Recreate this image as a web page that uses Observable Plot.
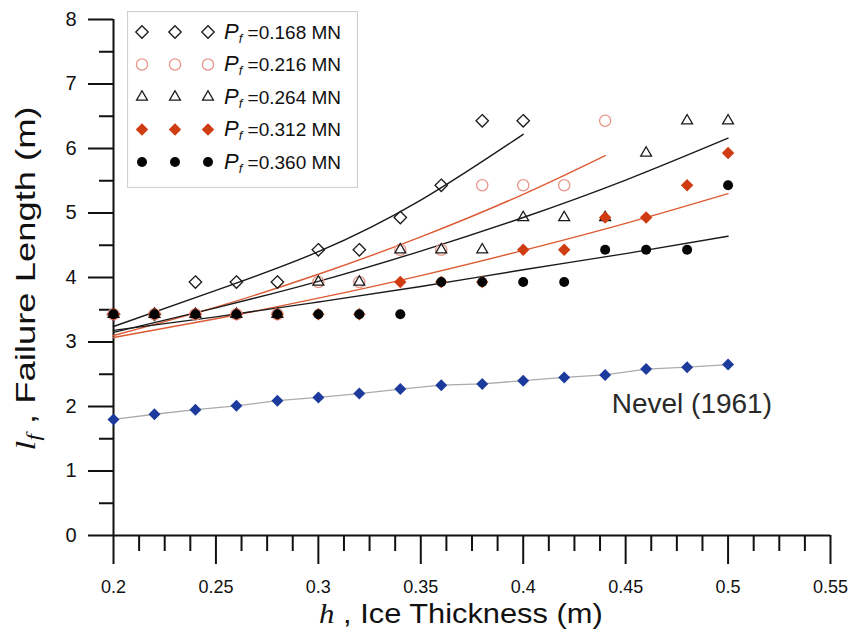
<!DOCTYPE html>
<html>
<head>
<meta charset="utf-8">
<script src="https://cdn.jsdelivr.net/npm/d3@7"></script>
<script src="https://cdn.jsdelivr.net/npm/@observablehq/plot@0.6"></script>
<style>
  html, body { margin: 0; padding: 0; background: #fff; }
  #wrap { position: relative; width: 852px; height: 641px; overflow: hidden; font-family: "Liberation Sans", Arial, sans-serif; }
  .ttl { position: absolute; white-space: nowrap; font-size: 28px; line-height: 1; color: #111; }
  .ital { font-family: "Liberation Serif", "DejaVu Serif", serif; font-style: italic; }
</style>
</head>
<body>
<div id="wrap"></div>
<script>
// ---- data ----
const thickness = [0.20, 0.22, 0.24, 0.26, 0.28, 0.30, 0.32, 0.34, 0.36, 0.38, 0.40, 0.42, 0.44, 0.46, 0.48, 0.50];

const lf_0168 = [3.43, 3.43, 3.93, 3.93, 3.93, 4.43, 4.43, 4.93, 5.43, 6.43, 6.43];
const lf_0216 = [3.43, 3.43, 3.43, 3.43, 3.43, 3.93, 3.93, 4.43, 4.43, 5.43, 5.43, 5.43, 6.43];
const lf_0264 = [3.43, 3.43, 3.43, 3.43, 3.43, 3.93, 3.93, 4.43, 4.43, 4.43, 4.93, 4.93, 4.93, 5.93, 6.43, 6.43];
const lf_0312 = [3.43, 3.43, 3.43, 3.43, 3.43, 3.43, 3.43, 3.93, 3.93, 3.93, 4.43, 4.43, 4.93, 4.93, 5.43, 5.93];
const lf_0360 = [3.43, 3.43, 3.43, 3.43, 3.43, 3.43, 3.43, 3.43, 3.93, 3.93, 3.93, 3.93, 4.43, 4.43, 4.43, 5.43];
const lf_nevel = [1.80, 1.88, 1.95, 2.01, 2.09, 2.14, 2.20, 2.27, 2.33, 2.35, 2.40, 2.45, 2.49, 2.58, 2.61, 2.65];

// fitted trend curves
const fitH_0168 = [0.20, 0.25, 0.30, 0.35, 0.40];
const fit_0168  = [3.24, 3.80, 4.40, 5.20, 6.22];
const fitH_0216 = [0.20, 0.25, 0.30, 0.35, 0.40, 0.44];
const fit_0216  = [3.10, 3.54, 4.05, 4.63, 5.29, 5.89];
const fitH_full = [0.20, 0.25, 0.30, 0.35, 0.40, 0.45, 0.50];
const fit_0264  = [3.15, 3.53, 3.94, 4.41, 4.93, 5.51, 6.16];
const fit_0312  = [3.07, 3.36, 3.68, 4.03, 4.42, 4.84, 5.30];
const fit_0360  = [3.18, 3.39, 3.62, 3.86, 4.12, 4.37, 4.64];

const seriesLabels = ["0.168", "0.216", "0.264", "0.312", "0.360"];

const xMajorTicks = [0.2, 0.25, 0.3, 0.35, 0.4, 0.45, 0.5, 0.55];
const xMinorTicks = [0.2125, 0.225, 0.2375, 0.2625, 0.275, 0.2875, 0.3125, 0.325, 0.3375,
                     0.3625, 0.375, 0.3875, 0.4125, 0.425, 0.4375, 0.4625, 0.475, 0.4875,
                     0.5125, 0.525, 0.5375];
const yMajorTicks = [0, 1, 2, 3, 4, 5, 6, 7, 8];
const yMinorTicks = [0.5, 1.5, 2.5, 3.5, 4.5, 5.5, 6.5, 7.5];

const nevelNote = [{h: 0.4432, lf: 2.04, label: "Nevel (1961)"}];

// ---- styles ----
const styleFor = [
  {symbol: "diamond2",  r: 5.6, stroke: "#1a1a1a", fill: "none", line: "#1a1a1a"},
  {symbol: "circle",    r: 5.6, stroke: "#e8968a", fill: "none", line: "#dd5a33"},
  {symbol: "triangle2", r: 5.2, stroke: "#1a1a1a", fill: "none", line: "#1a1a1a"},
  {symbol: "diamond2",  r: 5.6, stroke: "none",    fill: "#cf3c12", line: "#dd5a33"},
  {symbol: "circle",    r: 5.0, stroke: "none",    fill: "#050505", line: "#1a1a1a"}
];

const pts = arr => arr.map((v, i) => ({h: thickness[i], lf: v}));
const fit = (hs, vs) => hs.map((h, i) => ({h, lf: vs[i]}));

const pointSets = [lf_0168, lf_0216, lf_0264, lf_0312, lf_0360].map(pts);
const fitSets = [
  fit(fitH_0168, fit_0168), fit(fitH_0216, fit_0216), fit(fitH_full, fit_0264),
  fit(fitH_full, fit_0312), fit(fitH_full, fit_0360)
];

const marks = [
  Plot.axisX(xMinorTicks, {tickSize: 16, strokeWidth: 2, text: null, label: null}),
  Plot.axisX(xMajorTicks, {tickSize: 29, strokeWidth: 2, tickPadding: 16, fontSize: 18,
                           tickFormat: d => String(d), label: null}),
  Plot.axisY(yMinorTicks, {tickSize: 14, strokeWidth: 2, text: null, label: null}),
  Plot.axisY(yMajorTicks, {tickSize: 25, strokeWidth: 2, tickPadding: 12, fontSize: 20,
                           tickFormat: d => String(d), label: null}),
  Plot.ruleY([0], {stroke: "#111", strokeWidth: 2}),
  Plot.ruleX([0.2], {stroke: "#111", strokeWidth: 2}),
  // Nevel (1961)
  Plot.line(pts(lf_nevel), {x: "h", y: "lf", stroke: "#ababab", strokeWidth: 1.3}),
  Plot.dot(pts(lf_nevel), {x: "h", y: "lf", symbol: "diamond2", r: 5.4, fill: "#1d3b9c", stroke: "none"}),
  Plot.text(nevelNote, {x: "h", y: "lf", text: "label", textAnchor: "start", fontSize: 28, fill: "#2a2a2a"})
];
// fitted curves
fitSets.forEach((d, i) => {
  marks.push(Plot.line(d, {x: "h", y: "lf", curve: "natural", stroke: styleFor[i].line, strokeWidth: 1.4}));
});
// data points
pointSets.forEach((d, i) => {
  const s = styleFor[i];
  marks.push(Plot.dot(d, {x: "h", y: "lf", symbol: s.symbol, r: s.r, stroke: s.stroke, fill: s.fill, strokeWidth: 1.3}));
});

const chart = Plot.plot({
  width: 852, height: 641,
  marginLeft: 113, marginRight: 22, marginTop: 19, marginBottom: 106,
  x: {domain: [0.2, 0.55]},
  y: {domain: [0, 8]},
  style: {fontFamily: "'Liberation Sans', Arial, sans-serif", color: "#111", background: "white", overflow: "visible"},
  marks
});

const wrap = document.getElementById("wrap");
wrap.appendChild(chart);

// ---- legend (inside the plot area) ----
const leg = d3.select(wrap).append("svg")
  .style("position", "absolute").style("left", "127px").style("top", "11px")
  .attr("width", 231).attr("height", 177)
  .style("font-family", "'Liberation Sans', Arial, sans-serif");
leg.append("rect").attr("x", 0.5).attr("y", 0.5).attr("width", 230).attr("height", 176)
  .attr("fill", "white").attr("stroke", "#cfcfcf").attr("stroke-width", 1.2);
const symMap = {diamond2: d3.symbolDiamond2, circle: d3.symbolCircle, triangle2: d3.symbolTriangle2};
seriesLabels.forEach((lab, i) => {
  const s = styleFor[i];
  const cy = 21 + i * 32.5;
  [15, 48, 81].forEach(cx => {
    leg.append("path")
      .attr("transform", `translate(${cx},${cy})`)
      .attr("d", d3.symbol(symMap[s.symbol], s.r * s.r * Math.PI)())
      .attr("fill", s.fill).attr("stroke", s.stroke).attr("stroke-width", 1.3);
  });
  const t = leg.append("text").attr("x", 97).attr("y", cy + 6.5).attr("font-size", 19).attr("fill", "#111");
  t.append("tspan").attr("font-style", "italic").attr("font-size", 22).text("P");
  t.append("tspan").attr("font-style", "italic").attr("font-size", 13).attr("dy", 4).text("f");
  t.append("tspan").attr("dy", -4).text(" =" + lab + " MN");
});

// ---- axis titles ----
const xt = document.createElement("div");
xt.className = "ttl";
xt.innerHTML = '<span class="ital">h</span> , Ice Thickness (m)';
wrap.appendChild(xt);
xt.style.left = (461 - xt.offsetWidth / 2) + "px";
xt.style.top = "600px";
xt.style.transform = "scaleX(1.1)";

const yt = document.createElement("div");
yt.className = "ttl";
yt.innerHTML = '<span class="ital">l<sub style="font-size:18px;vertical-align:-5px">f</sub></span> , Failure Length (m)';
wrap.appendChild(yt);
yt.style.left = (27 - yt.offsetWidth / 2) + "px";
yt.style.top = (278 - yt.offsetHeight / 2) + "px";
yt.style.transform = "rotate(-90deg) scaleX(1.3)";
</script>
</body>
</html>
